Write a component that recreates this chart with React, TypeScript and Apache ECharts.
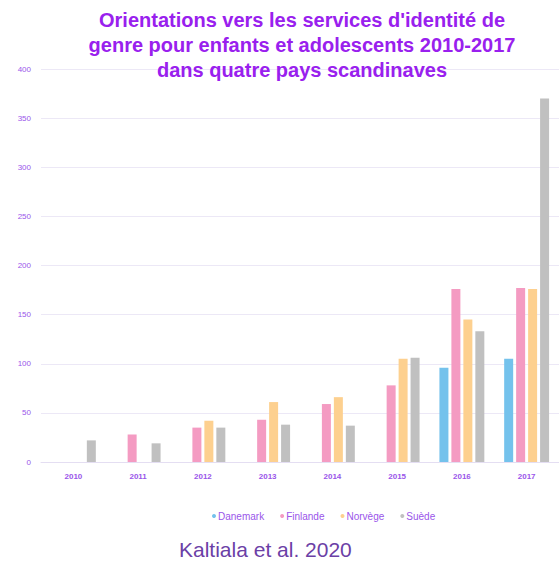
import React, { useEffect, useRef } from "react";
import * as echarts from "echarts";

const years = ["2010", "2011", "2012", "2013", "2014", "2015", "2016", "2017"];
const danemark = [null, null, null, null, null, null, 96, 105];
const finlande = [null, 28, 35, 43, 59, 78, 176, 177];
const norvege = [null, null, 42, 61, 66, 105, 145, 176];
const suede = [22, 19, 35, 38, 37, 106, 133, 370];
const seriesNames = ["Danemark", "Finlande", "Norvège", "Suède"];
const seriesColors = ["#74c2ec", "#f49bc2", "#fdd08f", "#c0c0c0"];

export default function App() {
  const ref = useRef<HTMLDivElement>(null);
  useEffect(() => {
    const chart = echarts.init(ref.current!, null, { renderer: "svg" });
    const data = [danemark, finlande, norvege, suede];
    chart.setOption({
      animation: false,
      backgroundColor: "#ffffff",
      title: {
        text: "Orientations vers les services d'identité de\ngenre pour enfants et adolescents 2010-2017\ndans quatre pays scandinaves",
        left: 297,
        top: 2,
        textAlign: "center",
        textStyle: {
          fontFamily: "Liberation Sans, Arial, sans-serif",
          fontSize: 20,
          fontWeight: "bold",
          color: "#9920ee",
          lineHeight: 25,
        },
      },
      legend: {
        data: seriesNames,
        top: 506,
        left: 207,
        itemWidth: 4,
        itemHeight: 4,
        itemGap: 16,
        icon: "circle",
        textStyle: {
          fontFamily: "Liberation Sans, Arial, sans-serif",
          fontSize: 10,
          color: "#9a55ea",
          padding: [0, 0, 0, -3],
        },
      },
      grid: { left: 41, right: -4, top: 69, height: 393, containLabel: false },
      xAxis: {
        type: "category",
        data: years,
        axisLine: { show: true, lineStyle: { color: "#e4def2" } },
        axisTick: { show: false },
        axisLabel: {
          fontFamily: "Liberation Sans, Arial, sans-serif",
          fontSize: 8,
          fontWeight: "bold",
          color: "#9a55ea",
          margin: 10,
        },
      },
      yAxis: {
        type: "value",
        min: 0,
        max: 400,
        interval: 50,
        axisLine: { show: false },
        axisTick: { show: false },
        splitLine: { lineStyle: { color: "#ece8f6", width: 1 } },
        axisLabel: {
          fontFamily: "Liberation Sans, Arial, sans-serif",
          fontSize: 8,
          color: "#9a55ea",
          margin: 10,
        },
      },
      series: seriesNames.map((name, i) => ({
        name,
        type: "bar",
        data: data[i],
        barWidth: 9,
        barGap: "33%",
        itemStyle: { color: seriesColors[i] },
      })),
      graphic: [
        {
          type: "text",
          left: 179,
          top: 539,
          style: {
            text: "Kaltiala et al. 2020",
            font: "21px 'Liberation Sans', Arial, sans-serif",
            fill: "#6b40a6",
          },
        },
      ],
    });
    return () => chart.dispose();
  }, []);
  return <div ref={ref} style={{ width: 559, height: 566, position: "absolute", left: 0, top: 0 }} />;
}
